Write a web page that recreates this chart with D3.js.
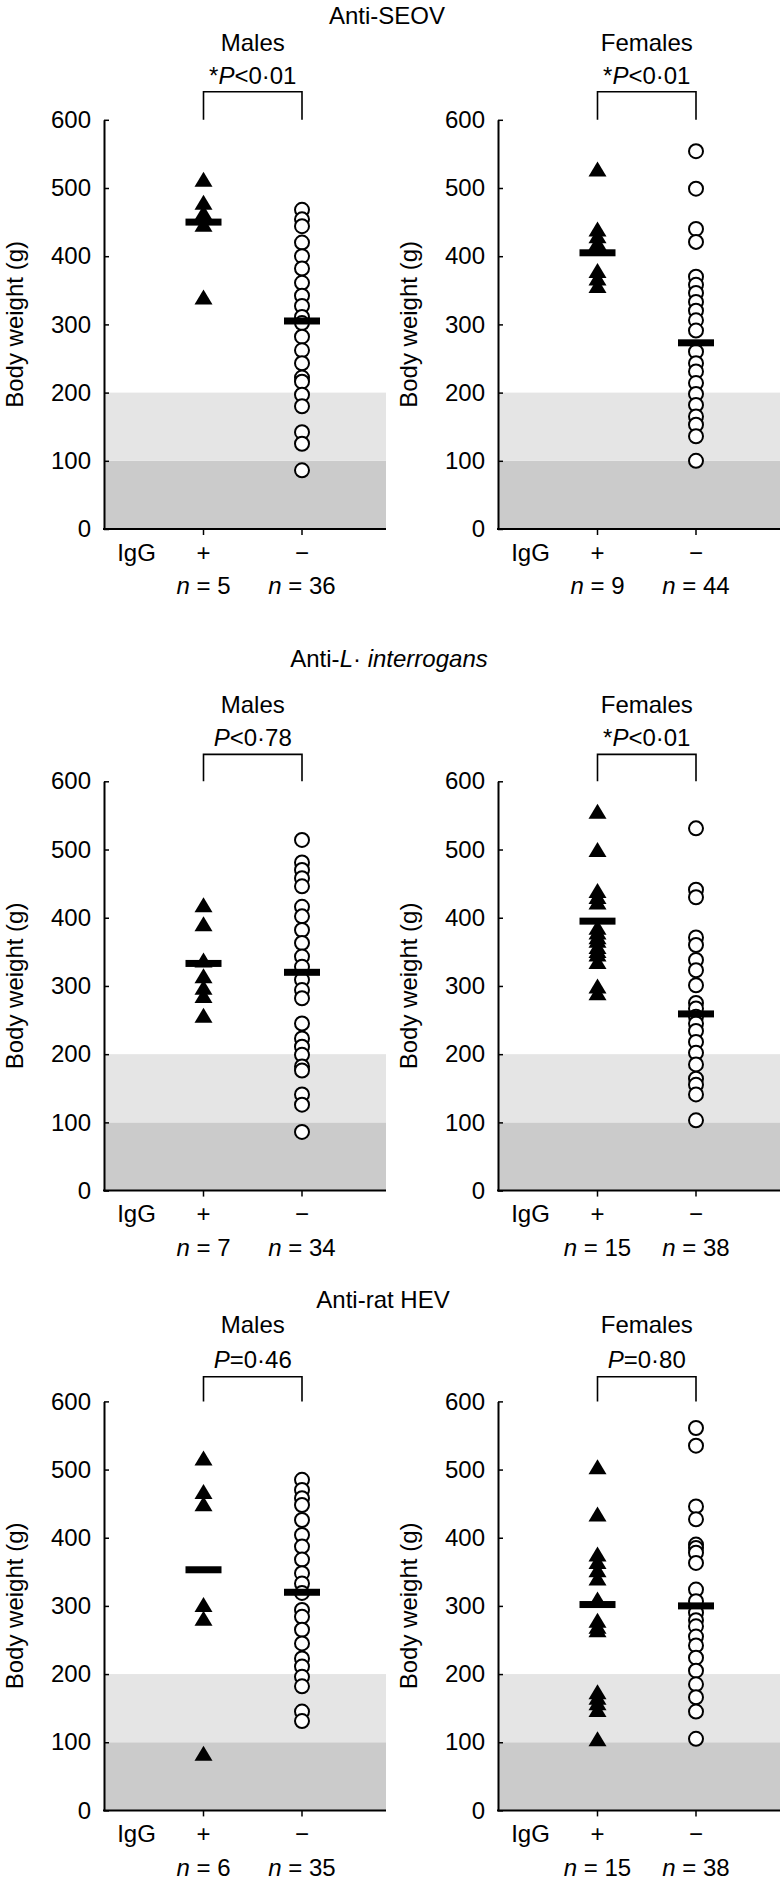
<!DOCTYPE html>
<html><head><meta charset="utf-8">
<script src="https://cdn.jsdelivr.net/npm/d3@7"></script>
<style>body{margin:0;background:#fff}svg{display:block}text{font-family:"Liberation Sans",Arial,Helvetica,sans-serif;fill:#000}</style>
</head><body>
<script>
// ---------- data ----------
const rowTitles = ["Anti-SEOV", "Anti-L· interrogans", "Anti-rat HEV"];
const sexLabels = ["Males", "Females"];
const groupLabels = ["+", "−"];
const yTicks = [0, 100, 200, 300, 400, 500, 600];
const bands = [[0, 100], [100, 200]];
const pLabels = [["*P<0·01", "*P<0·01"], ["P<0·78", "*P<0·01"], ["P=0·46", "P=0·80"]];
const nPos = [[5, 9], [7, 15], [6, 15]];
const nNeg = [[36, 44], [34, 38], [35, 38]];

const seovMalePos = [513, 479, 464, 447, 340];
const seovMaleNeg = [468, 454, 444, 420, 400, 382, 361, 342, 327, 311, 302, 282, 262, 243, 222, 216, 197, 180, 142, 125, 86];
const seovFemalePos = [528, 440, 430, 420, 379, 368, 357];
const seovFemaleNeg = [554, 499, 440, 421, 370, 358, 346, 333, 320, 306, 291, 260, 243, 231, 214, 198, 182, 165, 153, 136, 100];
const leptoMalePos = [419, 391, 338, 315, 298, 286, 257];
const leptoMaleNeg = [514, 481, 470, 458, 446, 416, 402, 382, 363, 343, 328, 309, 294, 282, 245, 223, 211, 199, 182, 176, 141, 126, 86];
const leptoFemalePos = [556, 500, 440, 431, 423, 386, 379, 372, 367, 358, 352, 347, 336, 300, 290];
const leptoFemaleNeg = [531, 441, 430, 371, 360, 338, 323, 301, 275, 267, 255, 245, 234, 218, 202, 185, 164, 155, 141, 103];
const hevMalePos = [517, 468, 450, 302, 282, 84];
const hevMaleNeg = [485, 470, 458, 448, 426, 404, 387, 368, 348, 333, 319, 294, 284, 265, 245, 223, 211, 196, 182, 145, 131];
const hevFemalePos = [504, 435, 376, 365, 353, 341, 310, 279, 270, 265, 174, 166, 158, 148, 105];
const hevFemaleNeg = [561, 535, 446, 427, 390, 385, 378, 363, 324, 307, 290, 279, 270, 255, 242, 224, 205, 185, 166, 145, 105];
// group means [pos, neg]
const seovMeans = [[450, 305], [405, 273]];
const leptoMeans = [[333, 320], [395, 259]];
const hevMeans = [[353, 320], [302, 300]];

const values = [
  [[seovMalePos, seovMaleNeg], [seovFemalePos, seovFemaleNeg]],
  [[leptoMalePos, leptoMaleNeg], [leptoFemalePos, leptoFemaleNeg]],
  [[hevMalePos, hevMaleNeg], [hevFemalePos, hevFemaleNeg]]
];
const means = [seovMeans, leptoMeans, hevMeans];

// ---------- layout ----------
const W = 780, H = 1881;
const cols = [{axisX: 104, right: 386}, {axisX: 498, right: 780}];
const rows = [
  {top: 119.8, bottom: 529, title: 23.7, titleX: 387, sex: 50.5, p: 84, bracket: 91.8},
  {top: 781.3, bottom: 1190.6, title: 667, titleX: 389, sex: 712.9, p: 745.7, bracket: 754.4},
  {top: 1401.4, bottom: 1810.4, title: 1307.5, titleX: 383, sex: 1333.3, p: 1367.7, bracket: 1376.8}
];
const FS = 24;

const svg = d3.select("body").append("svg").attr("width", W).attr("height", H);

function addPText(sel, s) {
  const m = s.match(/^(\*?)(P)(.*)$/);
  if (m[1]) sel.append("tspan").text(m[1]);
  sel.append("tspan").attr("font-style", "italic").text(m[2]);
  sel.append("tspan").text(m[3]);
}

rows.forEach((r, ri) => {
  const t = svg.append("text").attr("x", r.titleX).attr("y", r.title)
    .attr("text-anchor", "middle").attr("font-size", FS);
  if (ri === 1) {
    t.append("tspan").text("Anti-");
    t.append("tspan").attr("font-style", "italic").text("L");
    t.append("tspan").text("· ");
    t.append("tspan").attr("font-style", "italic").text("interrogans");
  } else {
    t.text(rowTitles[ri]);
  }

  cols.forEach((c, ci) => {
    const g = svg.append("g");
    const y = d3.scaleLinear().domain([0, 600]).range([r.bottom, r.top]);
    const x = d3.scalePoint().domain(groupLabels).range([c.axisX + 99.5, c.axisX + 198]);

    g.selectAll("rect.band").data(bands).join("rect")
      .attr("x", c.axisX).attr("width", c.right - c.axisX)
      .attr("y", d => y(d[1])).attr("height", d => y(d[0]) - y(d[1]))
      .attr("fill", (d, i) => i === 0 ? "#cbcbcb" : "#e5e5e5");

    const ax = g.append("g").attr("transform", `translate(${c.axisX},0)`)
      .call(d3.axisLeft(y).tickValues(yTicks).tickSize(-5).tickSizeOuter(0).tickPadding(13).tickFormat(d3.format("d")));
    ax.select(".domain").attr("stroke", "#000").attr("stroke-width", 2);
    ax.selectAll(".tick line").attr("stroke", "#000").attr("stroke-width", 1.5);
    ax.selectAll(".tick text").attr("font-size", FS).attr("font-family", "Liberation Sans, Arial, sans-serif").attr("fill", "#000");

    g.append("line").attr("x1", c.axisX - 1).attr("x2", c.right)
      .attr("y1", r.bottom).attr("y2", r.bottom).attr("stroke", "#000").attr("stroke-width", 2);
    g.selectAll("line.xt").data(groupLabels).join("line")
      .attr("x1", d => x(d)).attr("x2", d => x(d))
      .attr("y1", r.bottom).attr("y2", r.bottom + 6).attr("stroke", "#000").attr("stroke-width", 1.5);

    g.append("text").attr("transform", `translate(${c.axisX - 89},${(r.top + r.bottom) / 2}) rotate(-90)`)
      .attr("text-anchor", "middle").attr("dy", "0.35em").attr("font-size", FS).text("Body weight (g)");

    g.append("text").attr("x", c.axisX + 32.5).attr("y", r.bottom + 31.6)
      .attr("text-anchor", "middle").attr("font-size", FS).text("IgG");
    g.selectAll("text.gl").data(groupLabels).join("text")
      .attr("x", d => x(d)).attr("y", r.bottom + 31.6)
      .attr("text-anchor", "middle").attr("font-size", FS).text(d => d);
    const ns = [nPos[ri][ci], nNeg[ri][ci]];
    groupLabels.forEach((gl, gi) => {
      const tt = g.append("text").attr("x", x(gl)).attr("y", r.bottom + 65.3)
        .attr("text-anchor", "middle").attr("font-size", FS);
      tt.append("tspan").attr("font-style", "italic").text("n");
      tt.append("tspan").text(" = " + ns[gi]);
    });

    const mid = (x("+") + x("−")) / 2;
    g.append("text").attr("x", mid).attr("y", r.sex).attr("text-anchor", "middle")
      .attr("font-size", FS).text(sexLabels[ci]);
    addPText(g.append("text").attr("x", mid).attr("y", r.p).attr("text-anchor", "middle").attr("font-size", FS), pLabels[ri][ci]);

    g.append("path")
      .attr("d", d3.line()([[x("+"), r.top], [x("+"), r.bracket], [x("−"), r.bracket], [x("−"), r.top]]))
      .attr("fill", "none").attr("stroke", "#000").attr("stroke-width", 1.6);

    const [posVals, negVals] = values[ri][ci];
    g.selectAll("path.tri").data(posVals).join("path")
      .attr("transform", d => `translate(${x("+")},${y(d)})`)
      .attr("d", "M0,-7.5L9,7.5L-9,7.5Z").attr("fill", "#000");
    g.selectAll("circle.pt").data(negVals).join("circle")
      .attr("cx", x("−")).attr("cy", d => y(d)).attr("r", 7)
      .attr("fill", "#fff").attr("stroke", "#000").attr("stroke-width", 2);

    const mv = means[ri][ci];
    g.selectAll("rect.mean").data(groupLabels).join("rect")
      .attr("x", d => x(d) - 18).attr("width", 36)
      .attr("y", (d, i) => y(mv[i]) - 3.5).attr("height", 7).attr("fill", "#000");
  });
});
</script>
</body></html>
